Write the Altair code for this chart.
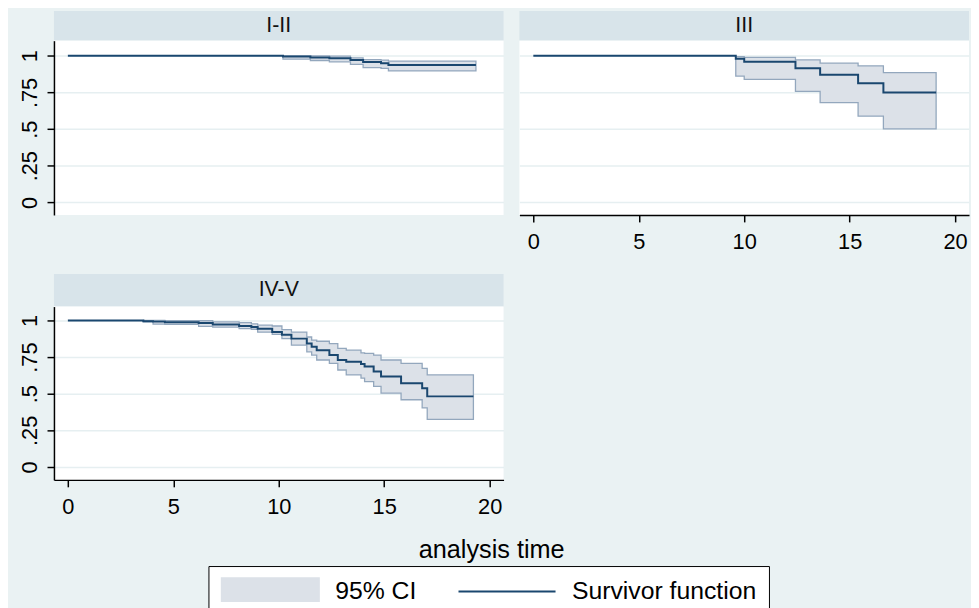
import altair as alt
import pandas as pd

FONT = "Liberation Sans, Arial, Helvetica, sans-serif"
BG = "#EAF2F3"
HEADER_BG = "#D8E4EA"
GRID = "#E6EFF1"
NAVY = "#1A476F"
CI_FILL = "#DCE1E8"
CI_EDGE = "#93A7BD"

panel_names = ["I-II", "III", "IV-V"]
x_title = "analysis time"
legend_labels = ["95% CI", "Survivor function"]

x_ticks = [0, 5, 10, 15, 20]
y_ticks = [0, 0.25, 0.5, 0.75, 1]
y_tick_labels = ["0", ".25", ".5", ".75", "1"]

# event times (last value = end of follow-up), survivor estimate and 95% CI
t_12 = [10.2, 11.5, 12.4, 13.4, 14.0, 14.85, 15.2, 19.35]
s_12 = [0.996, 0.988, 0.984, 0.972, 0.958, 0.950, 0.938, 0.938]
lo_12 = [0.978, 0.968, 0.959, 0.941, 0.919, 0.914, 0.897, 0.897]
hi_12 = [1.000, 0.999, 0.998, 0.986, 0.974, 0.970, 0.964, 0.964]

t_3 = [9.6, 10.0, 12.43, 13.6, 15.4, 16.6, 19.1]
s_3 = [0.980, 0.959, 0.916, 0.871, 0.813, 0.750, 0.750]
lo_3 = [0.862, 0.840, 0.758, 0.680, 0.588, 0.502, 0.502]
hi_3 = [0.994, 0.989, 0.972, 0.950, 0.932, 0.885, 0.885]

t_45 = [3.58, 4.04, 4.6, 6.2, 6.87, 8.12, 8.7, 9.0, 9.69, 10.15, 10.6, 11.33,
        11.56, 11.8, 12.4, 12.8, 13.2, 13.9, 14.07, 14.5, 14.85, 15.8, 16.8,
        17.04, 19.23]
s_45 = [0.995, 0.992, 0.988, 0.982, 0.973, 0.962, 0.955, 0.944, 0.921, 0.903,
        0.876, 0.842, 0.820, 0.797, 0.764, 0.730, 0.718, 0.703, 0.685, 0.651,
        0.617, 0.572, 0.538, 0.482, 0.482]
lo_45 = [0.990, 0.975, 0.973, 0.960, 0.955, 0.944, 0.940, 0.920, 0.905, 0.876,
         0.831, 0.786, 0.764, 0.730, 0.707, 0.662, 0.628, 0.606, 0.583, 0.550,
         0.504, 0.459, 0.403, 0.325, 0.325]
hi_45 = [1.000, 1.000, 0.998, 0.998, 0.990, 0.985, 0.977, 0.968, 0.962, 0.937,
         0.921, 0.887, 0.865, 0.858, 0.842, 0.809, 0.797, 0.779, 0.775, 0.764,
         0.730, 0.707, 0.673, 0.628, 0.628]

series = {
    "I-II": (t_12, s_12, lo_12, hi_12),
    "III": (t_3, s_3, lo_3, hi_3),
    "IV-V": (t_45, s_45, lo_45, hi_45),
}

rows_s, rows_ci = [], []
for name in panel_names:
    t, s, lo, hi = series[name]
    rows_s.append({"panel": name, "time": 0.0, "surv": 1.0})
    for ti, si in zip(t, s):
        rows_s.append({"panel": name, "time": ti, "surv": si})
    for ti, l, h in zip(t, lo, hi):
        rows_ci.append({"panel": name, "time": ti, "lo": l, "hi": h})
surv_df = pd.DataFrame(rows_s)
ci_df = pd.DataFrame(rows_ci)

# layout
W = 454
x_domain = [-0.66, 20.66]

label_expr = " : ".join(
    f"datum.value == {v} ? '{lab}'" for v, lab in zip(y_ticks, y_tick_labels)
) + " : ''"

axis_common = dict(domainColor="black", domainWidth=1.5, tickColor="black",
                   tickWidth=1.5, tickSize=7, labelFont=FONT, labelFontSize=22,
                   labelColor="black", title=None, labelFlush=False)

x_axis = alt.Axis(values=x_ticks, format="d", grid=False, labelPadding=10,
                  **axis_common)
y_axis_shown = alt.Axis(values=y_ticks, labelExpr=label_expr, labelAngle=270,
                        labelAlign="center", labelBaseline="alphabetic",
                        labelPadding=11, grid=True, gridColor=GRID,
                        gridWidth=1.5, **axis_common)
y_axis_hidden = alt.Axis(values=y_ticks, labels=False, ticks=False,
                         domain=False, grid=True, gridColor=GRID,
                         gridWidth=1.5, title=None)


def plot_panel(name, height, ydom, show_x, show_y):
    xs = alt.Scale(domain=x_domain, nice=False, zero=False)
    ys = alt.Scale(domain=ydom, nice=False, zero=False)
    yax = y_axis_shown if show_y else y_axis_hidden
    if show_x:
        x_enc = alt.X("time:Q", scale=xs, axis=x_axis)
    else:
        x_enc = alt.X("time:Q", scale=xs, axis=None)
    area = alt.Chart(ci_df).transform_filter(alt.datum.panel == name).mark_area(
        interpolate="step-after", fill=CI_FILL, stroke=CI_EDGE, strokeWidth=1.3
    ).encode(x=x_enc, y=alt.Y("lo:Q", scale=ys, axis=yax), y2="hi:Q")
    line = alt.Chart(surv_df).transform_filter(alt.datum.panel == name).mark_line(
        interpolate="step-after", color=NAVY, strokeWidth=2
    ).encode(x=x_enc, y=alt.Y("surv:Q", scale=ys, axis=yax))
    return alt.layer(area, line).properties(
        width=W, height=height,
        view=alt.ViewBackground(fill="white", strokeWidth=0))


def header(name, height):
    return alt.Chart(pd.DataFrame({"panel": [name]})).mark_text(
        font=FONT, fontSize=21.5, color="#111111"
    ).encode(text="panel:N").properties(
        width=W, height=height,
        view=alt.ViewBackground(fill=HEADER_BG, strokeWidth=0))


top_dom = [-0.0858, 1.1034]
bot_dom = [-0.0878, 1.0946]

panel_a = alt.vconcat(header("I-II", 29.5),
                      plot_panel("I-II", 176, top_dom, False, True), spacing=0)
panel_b = alt.vconcat(header("III", 29.5),
                      plot_panel("III", 176, top_dom, True, False), spacing=0)
panel_c = alt.vconcat(header("IV-V", 33),
                      plot_panel("IV-V", 175, bot_dom, True, True), spacing=0)

swatch_path = "M-1,-1.13H7.52V0.87H-1Z"
line_path = "M-1,0H7.52"

leg = alt.Legend(title=None, orient="none", legendX=156, legendY=560.5,
                 direction="horizontal", fillColor="white",
                 strokeColor="black", padding=12.5, symbolSize=529,
                 symbolStrokeWidth=2, symbolFillColor="white",
                 symbolStrokeColor="white", symbolOpacity=1,
                 labelFont=FONT, labelFontSize=25, labelColor="black",
                 labelOffset=90.5, labelLimit=500, columnPadding=38)

footer_text = alt.Chart(pd.DataFrame({"label": [x_title]})).mark_text(
    font=FONT, fontSize=25.5, color="black", dy=-7
).encode(text="label:N")

legend_points = alt.Chart(alt.Data(values=[])).mark_point(opacity=1).encode(
    fill=alt.Fill("series:N", scale=alt.Scale(domain=legend_labels,
                                              range=[CI_FILL, "transparent"]),
                  legend=leg),
    stroke=alt.Stroke("series:N", scale=alt.Scale(domain=legend_labels,
                                                  range=[CI_FILL, NAVY]),
                      legend=leg),
    shape=alt.Shape("series:N", scale=alt.Scale(domain=legend_labels,
                                                range=[swatch_path, line_path]),
                    legend=leg),
)

footer = alt.layer(footer_text, legend_points).properties(width=884, height=7)

top_row = alt.hconcat(panel_a, panel_b, spacing=16)

body = alt.vconcat(top_row, panel_c, spacing=21.5)

chart = alt.vconcat(body, footer, spacing=20).properties(
    background=BG,
    padding={"left": 9.4, "top": 0, "right": 2, "bottom": 0},
).configure_view(strokeWidth=0)

chart.save("out.html", embed_options={"renderer": "svg", "actions": False})
